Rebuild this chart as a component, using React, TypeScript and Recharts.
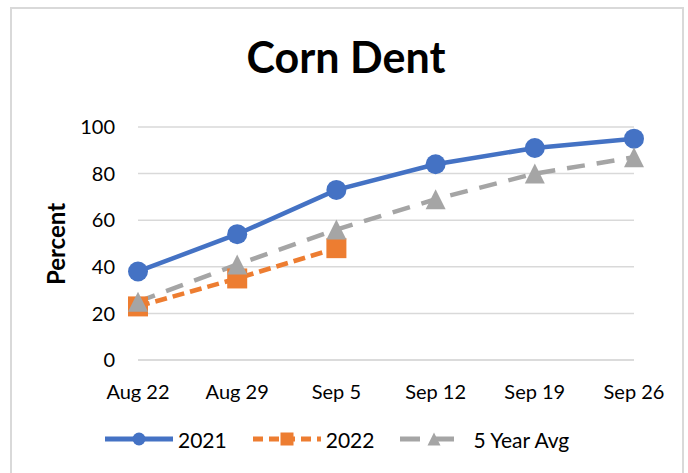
import { CartesianGrid, Line, LineChart, XAxis, YAxis } from "recharts";

const WEEKS = ["Aug 22", "Aug 29", "Sep 5", "Sep 12", "Sep 19", "Sep 26"];
const Y2021 = [38, 54, 73, 84, 91, 95];
const Y2022: (number | null)[] = [23, 35, 48, null, null, null];
const AVG5 = [25, 41, 56, 69, 80, 87];
const Y_TICKS = [0, 20, 40, 60, 80, 100];

const FONT = "Lato, 'Noto Sans', sans-serif";

const SERIES = [
  { key: "y2021", label: "2021", color: "#4472c4", dash: undefined as string | undefined, shape: "circle" },
  { key: "y2022", label: "2022", color: "#ed7d31", dash: "12 6", shape: "square" },
  { key: "avg5", label: "5 Year Avg", color: "#a5a5a5", dash: "18 12", shape: "triangle" },
];

const data = WEEKS.map((week, i) => ({
  week,
  y2021: Y2021[i],
  y2022: Y2022[i],
  avg5: AVG5[i],
}));

function Marker({ shape, color, cx, cy, size }: { shape: string; color: string; cx: number; cy: number; size: number }) {
  const h = size / 2;
  if (shape === "circle") return <circle cx={cx} cy={cy} r={h} fill={color} />;
  if (shape === "square") return <rect x={cx - h} y={cy - h} width={size} height={size} fill={color} />;
  return <polygon points={`${cx},${cy - h} ${cx + h},${cy + h} ${cx - h},${cy + h}`} fill={color} />;
}

function makeDot(shape: string, color: string) {
  return (props: any) => {
    const { cx, cy, index, value } = props;
    if (value == null || cx == null || cy == null) return <g key={index} />;
    return (
      <g key={index}>
        <Marker shape={shape} color={color} cx={cx} cy={cy} size={20} />
      </g>
    );
  };
}

function LegendRow() {
  return (
    <div style={{ position: "absolute", top: 426, left: 105, display: "flex", alignItems: "center", fontFamily: FONT, fontSize: 21, color: "#000" }}>
      {SERIES.map((s, i) => (
        <span key={s.key} style={{ display: "flex", alignItems: "center", marginRight: i < 2 ? 26 : 0 }}>
          <svg width={68} height={26} style={{ marginRight: 5 }}>
            <line x1={0} y1={13} x2={68} y2={13} stroke={s.color} strokeWidth={5} strokeDasharray={s.dash ? (s.shape === "square" ? "10 6" : "20 14") : undefined} />
            <Marker shape={s.shape} color={s.color} cx={34} cy={13} size={13} />
          </svg>
          {s.label}
        </span>
      ))}
    </div>
  );
}

export default function App() {
  return (
    <div style={{ position: "absolute", left: 0, top: 0, width: 688, height: 473, background: "#fff", overflow: "hidden" }}>
      <div style={{ position: "absolute", left: 10, top: 7, width: 670, height: 480, border: "2px solid #d9d9d9" }} />
      <div style={{ position: "absolute", left: 0, top: 31, width: 692, textAlign: "center", fontFamily: FONT, fontWeight: 700, fontSize: 43, color: "#000" }}>
        Corn Dent
      </div>
      <div
        style={{
          position: "absolute",
          left: 55,
          top: 244,
          transform: "translate(-50%, -50%) rotate(-90deg)",
          fontFamily: FONT,
          fontWeight: 700,
          fontSize: 24,
          whiteSpace: "nowrap",
          color: "#000",
        }}
      >
        Percent
      </div>
      <div style={{ position: "absolute", left: 0, top: 0 }}>
        <LineChart width={688} height={473} data={data} margin={{ top: 127, right: 54, bottom: 0, left: 0 }}>
          <CartesianGrid vertical={false} stroke="#d9d9d9" strokeWidth={1.5} />
          <XAxis
            dataKey="week"
            height={113}
            tickLine={false}
            axisLine={{ stroke: "#d9d9d9", strokeWidth: 1.5 }}
            tickMargin={19}
            interval={0}
            tick={{ fontSize: 20, fill: "#000", fontFamily: FONT }}
          />
          <YAxis
            width={138}
            domain={[0, 100]}
            ticks={Y_TICKS}
            tickLine={false}
            axisLine={false}
            tickMargin={17}
            tick={{ fontSize: 20, fill: "#000", fontFamily: FONT }}
          />
          {SERIES.map((s) => (
            <Line
              key={s.key}
              dataKey={s.key}
              type="linear"
              stroke={s.color}
              strokeWidth={4.5}
              strokeDasharray={s.dash}
              dot={makeDot(s.shape, s.color)}
              activeDot={false}
              connectNulls={false}
              isAnimationActive={false}
            />
          ))}
        </LineChart>
      </div>
      <LegendRow />
    </div>
  );
}
